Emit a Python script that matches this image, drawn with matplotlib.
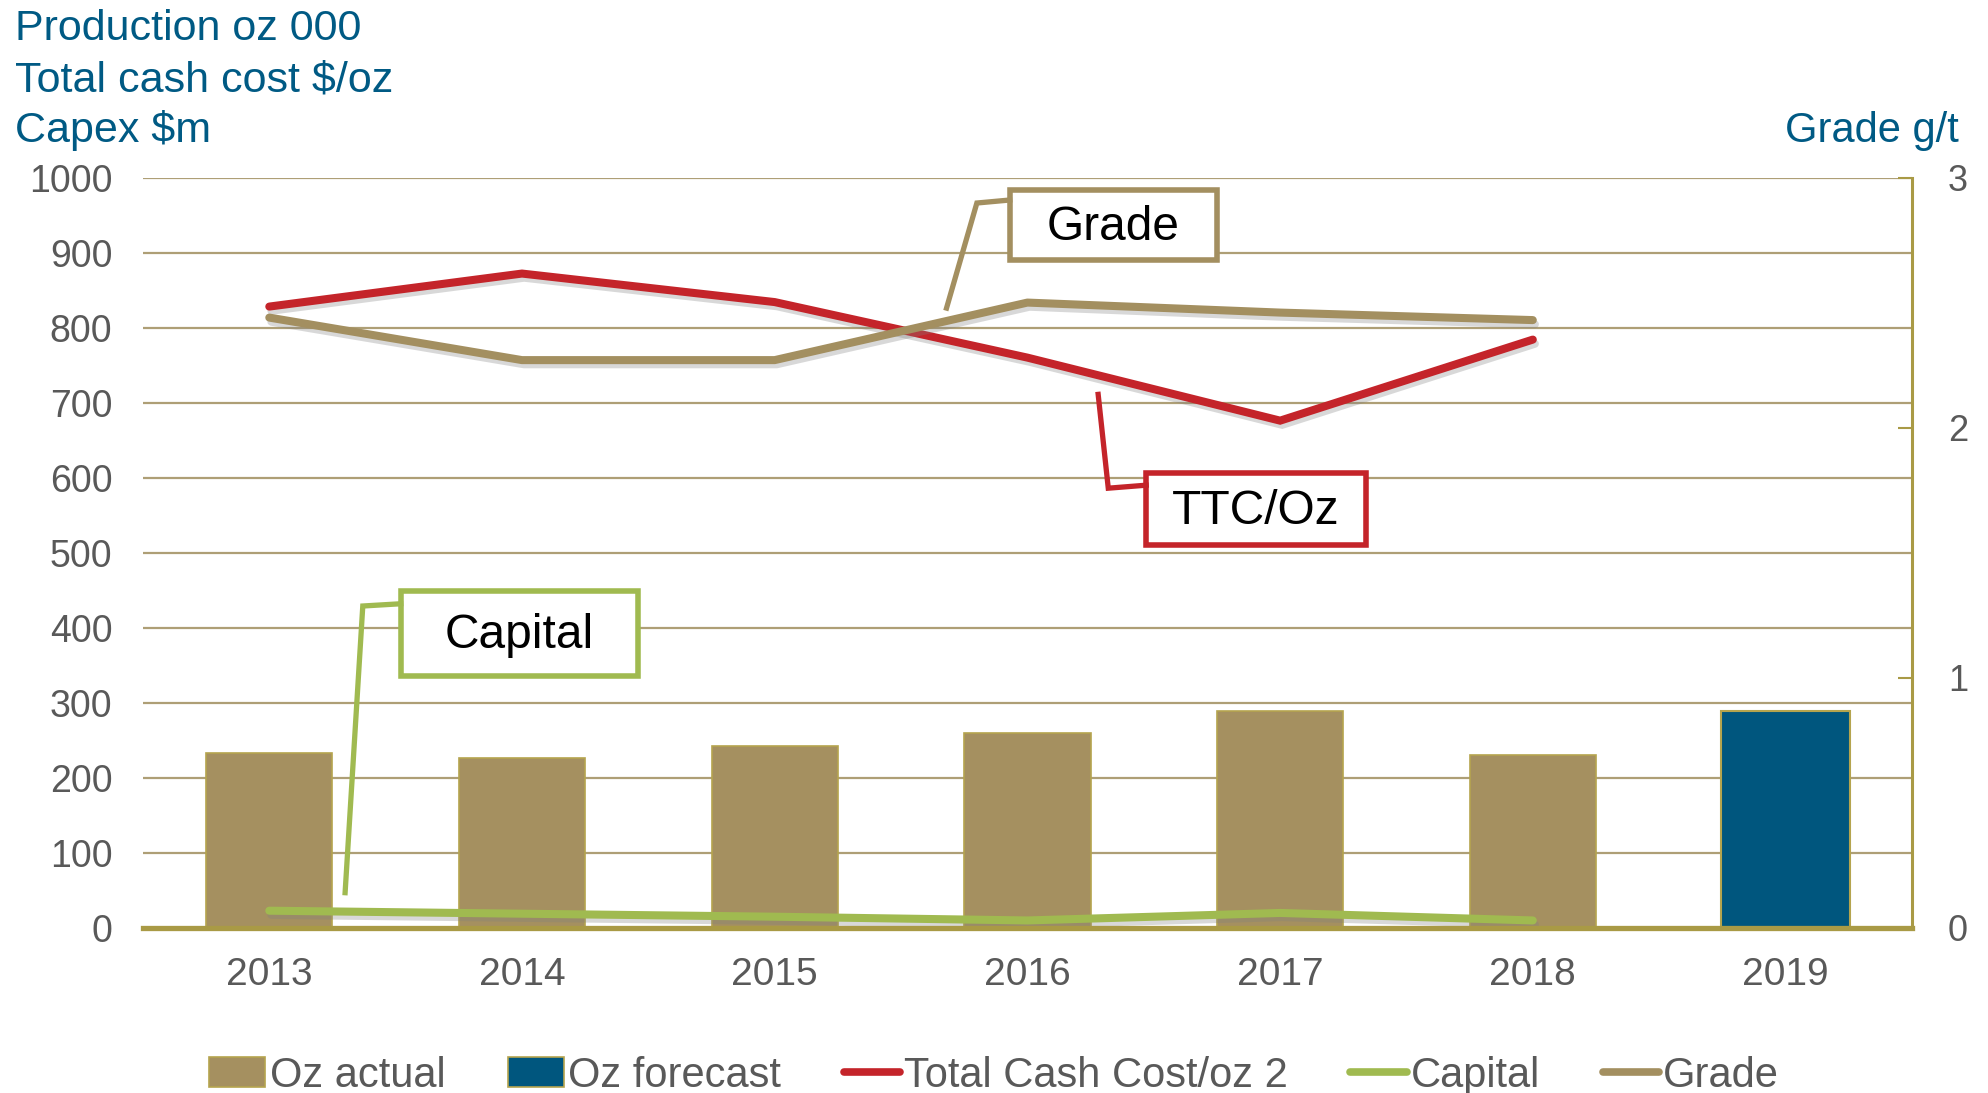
import matplotlib
matplotlib.use("Agg")
import matplotlib.pyplot as plt
import matplotlib.patheffects as pe
from matplotlib.patches import Rectangle, Patch
from matplotlib.lines import Line2D

years = ["2013", "2014", "2015", "2016", "2017", "2018", "2019"]
oz_actual = [233, 226, 243, 260, 289, 230, None]
oz_forecast = [None, None, None, None, None, None, 289]
ttc_oz = [828, 872, 834, 760, 676, 784]
capital = [23, 19, 15, 10, 20, 10]
grade = [2.44, 2.27, 2.27, 2.50, 2.46, 2.43]
left_ticks = [0, 100, 200, 300, 400, 500, 600, 700, 800, 900, 1000]
right_ticks = [0, 1, 2, 3]

NARROW = ["Liberation Sans", "DejaVu Sans"]
WIDE = ["Liberation Sans", "DejaVu Sans"]

C_BAR = "#A59060"
C_BAR_EDGE = "#B5A44E"
C_FORE = "#00567E"
C_RED = "#C4242A"
C_GREEN = "#A0BA50"
C_GRADE = "#A38F60"
C_GRID = "#AE9F76"
C_AXIS = "#A99A45"
C_TXT = "#595959"
C_TITLE = "#005A84"

fig = plt.figure(figsize=(19.88, 10.93), dpi=100)
ax = fig.add_axes([0.0719, 0.1510, 0.8898, 0.6866])
ax2 = ax.twinx()

x = list(range(len(years)))

# bars
xa = [i for i, v in enumerate(oz_actual) if v is not None]
ax.bar(xa, [oz_actual[i] for i in xa], width=0.5, color=C_BAR,
       edgecolor=C_BAR_EDGE, linewidth=1.2, zorder=2)
xf = [i for i, v in enumerate(oz_forecast) if v is not None]
ax.bar(xf, [oz_forecast[i] for i in xf], width=0.51, color=C_FORE,
       edgecolor=C_BAR_EDGE, linewidth=1.5, zorder=2)

shadow = [pe.SimpleLineShadow(offset=(1.5, -3), shadow_color="gray", alpha=0.3), pe.Normal()]

ax.plot(x[:6], ttc_oz, color=C_RED, lw=5.8, solid_capstyle="round",
        solid_joinstyle="miter", zorder=4, path_effects=shadow)
ax.plot(x[:6], capital, color=C_GREEN, lw=5.8, solid_capstyle="round",
        zorder=4, path_effects=shadow)
ax2.plot(x[:6], grade, color=C_GRADE, lw=5.8, solid_capstyle="round",
         zorder=4, path_effects=shadow)

ax.set_xlim(-0.5, 6.5)
ax.set_ylim(0, 1000)
ax2.set_ylim(0, 3)
ax.set_yticks(left_ticks)
ax2.set_yticks(right_ticks)
ax.set_xticks(x)
ax.set_xticklabels(years)

ax.grid(axis="y", color=C_GRID, lw=1.6, zorder=0)
ax.set_axisbelow(True)
for s in ["top", "left", "right"]:
    ax.spines[s].set_visible(False)
for s in ["top", "left", "bottom"]:
    ax2.spines[s].set_visible(False)
ax.spines["bottom"].set_color(C_AXIS)
ax.spines["bottom"].set_linewidth(3.8)
ax.spines["bottom"].set_zorder(5)
ax2.spines["right"].set_color(C_AXIS)
ax2.spines["right"].set_linewidth(2.2)

ax.tick_params(axis="y", length=0, pad=22, labelsize=27, labelcolor=C_TXT)
ax.tick_params(axis="x", length=0, pad=21, labelsize=28, labelcolor=C_TXT)
ax2.tick_params(axis="y", direction="in", length=10, width=1.5, color=C_AXIS,
                pad=26, labelsize=26, labelcolor=C_TXT)
for lab in ax.get_yticklabels() + ax.get_xticklabels():
    lab.set_family(NARROW)
for lab in ax2.get_yticklabels():
    lab.set_family(WIDE)

# titles
for txt, yc in [("Production oz 000", 29), ("Total cash cost $/oz", 81), ("Capex $m", 131)]:
    fig.text(15 / 1988, 1 - yc / 1093, txt, color=C_TITLE, fontsize=31,
             family=NARROW, va="center", ha="left")
fig.text(1959 / 1988, 1 - 131 / 1093, "Grade g/t", color=C_TITLE, fontsize=30,
         family=WIDE, va="center", ha="right")

# callouts
def callout(text, color, box, leader, tx, ty):
    x0, y0, x1, y1 = box
    ax.add_patch(Rectangle((x0, y0), x1 - x0, y1 - y0, fill=True, facecolor="white",
                           edgecolor=color, lw=4, zorder=6, clip_on=False))
    ax.plot([p[0] for p in leader], [p[1] for p in leader], color=color, lw=3.8,
            zorder=6, solid_joinstyle="miter", clip_on=False)
    ax.text(tx, ty, text, fontsize=34.5, family=WIDE, color="black", ha="center",
            va="center", zorder=7)

callout("Grade", C_GRADE, (2.93, 890, 3.75, 983),
        [(2.68, 826), (2.80, 966), (2.93, 970)], 3.34, 934)
callout("TTC/Oz", C_RED, (3.47, 510, 4.34, 606),
        [(3.28, 711), (3.32, 586), (3.47, 590)], 3.905, 555)
callout("Capital", C_GREEN, (0.52, 336, 1.46, 449),
        [(0.30, 47), (0.37, 429), (0.52, 432)], 0.99, 390)

# legend
handles = [
    Patch(facecolor=C_BAR, edgecolor=C_BAR_EDGE, lw=1.2),
    Patch(facecolor=C_FORE, edgecolor=C_BAR_EDGE, lw=1.2),
    Line2D([], [], color=C_RED, lw=5.5, solid_capstyle="round"),
    Line2D([], [], color=C_GREEN, lw=5.5, solid_capstyle="round"),
    Line2D([], [], color=C_GRADE, lw=5.5, solid_capstyle="round"),
]
labels = ["Oz actual", "Oz forecast", "Total Cash Cost/oz 2", "Capital", "Grade"]
leg = fig.legend(handles, labels, loc="center", bbox_to_anchor=(0.5, 0.016), ncol=5,
                 frameon=False, prop={"family": NARROW, "size": 30},
                 handlelength=1.35, handleheight=0.75, handletextpad=0.1,
                 columnspacing=1.5)
for t in leg.get_texts():
    t.set_color(C_TXT)

fig.savefig("out.png", dpi=100)
